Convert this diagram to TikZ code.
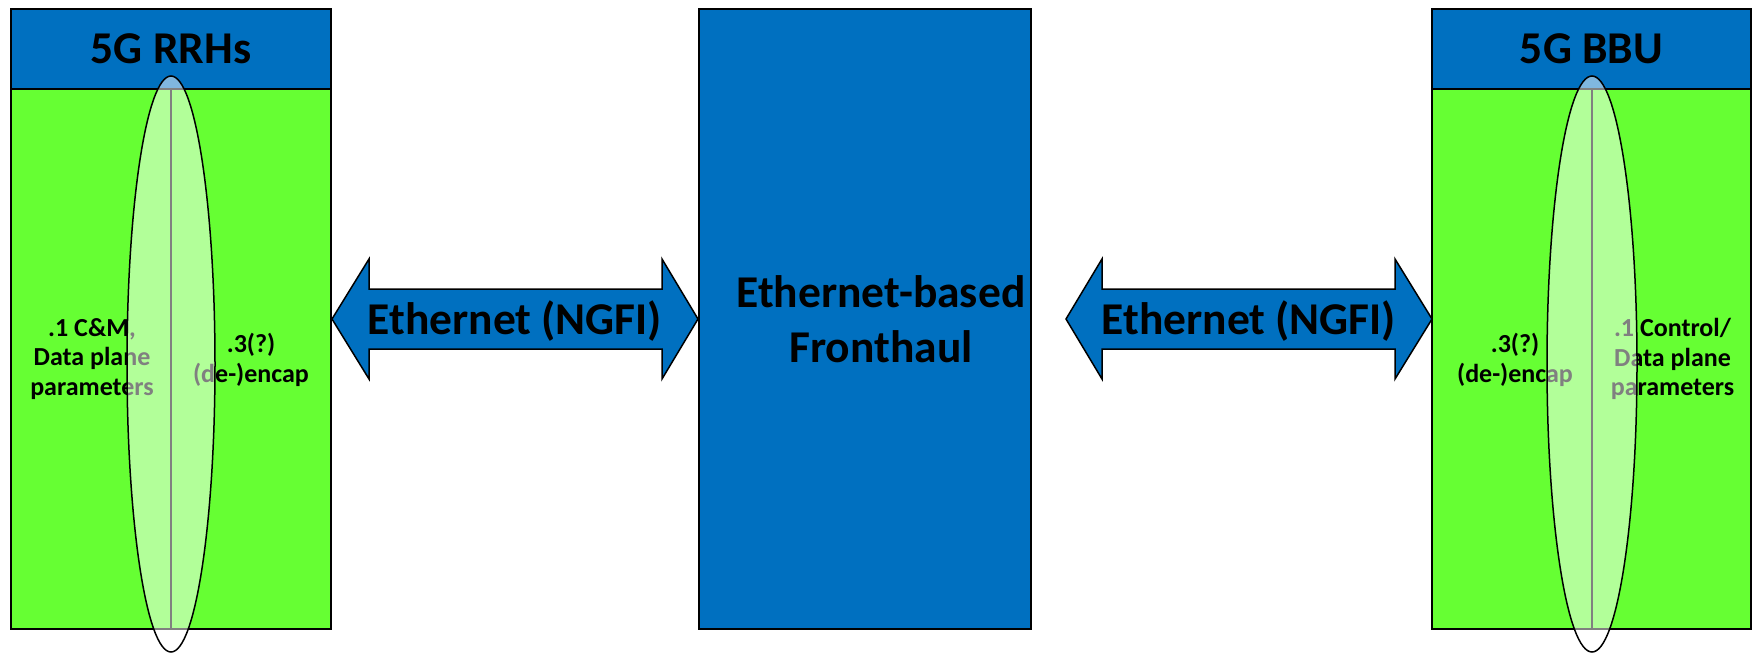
\documentclass[tikz,border=0pt]{standalone}
\usepackage{fontspec}
\setmainfont{Carlito}
\definecolor{hdrblue}{HTML}{0070C0}
\definecolor{bodygreen}{HTML}{66FF33}
\begin{document}
\begin{tikzpicture}[x=1pt,y=-1pt,
  outline/.style={draw=black,line width=1.5pt},
  bodybox/.style={outline,fill=bodygreen,inner sep=0pt},
  hdrbox/.style={outline,fill=hdrblue,inner sep=0pt,font=\fontsize{45.5}{55}\selectfont\bfseries},
  midbox/.style={outline,fill=hdrblue,inner sep=0pt},
  bigtext/.style={align=center,inner sep=0pt,font=\fontsize{45.5}{55}\selectfont\bfseries},
  arrowshape/.style={outline,fill=hdrblue,line join=miter},
  smalltext/.style={align=center,font=\fontsize{26}{29.5}\selectfont\bfseries,inner sep=0pt},
  divider/.style={draw=black,line width=1.5pt},
  lens/.style={draw=black,line width=1.5pt,fill=white,fill opacity=0.5}
]
\useasboundingbox (0,0) rectangle (1754,654);

% left unit
\node[bodybox,minimum width=320pt,minimum height=540pt] (rrhbody) at (171,359) {};
\node[hdrbox,minimum width=320pt,minimum height=80pt] (rrhhdr) at (171,49) {5G RRHs};
\node[smalltext] (rrhA) at (92,359) {.1 C\&M,\\Data plane\\parameters};
\node[smalltext] (rrhB) at (251,360) {.3(?)\\(de-)encap};
\coordinate (rrhtop) at (171,89);
\coordinate (rrhbot) at (171,629);
\draw[divider] (rrhtop) -- (rrhbot);
\draw[lens] (171,364) ellipse [x radius=44, y radius=288];

% centre
\node[midbox,minimum width=332pt,minimum height=620pt] (fh) at (865,319) {};
\node[bigtext] (fhtext) at (881,319) {Ethernet-based\\Fronthaul};

% right unit
\node[bodybox,minimum width=319pt,minimum height=540pt] (bbubody) at (1591.5,359) {};
\node[hdrbox,minimum width=319pt,minimum height=80pt] (bbuhdr) at (1591.5,49) {5G BBU};
\node[smalltext] (bbuA) at (1515,360) {.3(?)\\(de-)encap};
\node[smalltext] (bbuB) at (1672.5,359) {.1 Control/\\Data plane\\parameters};
\coordinate (bbutop) at (1592,89);
\coordinate (bbubot) at (1592,629);
\draw[divider] (bbutop) -- (bbubot);
\draw[lens] (1592,364) ellipse [x radius=45, y radius=288];

% arrows
\draw[arrowshape] (332,319) -- (369,259) -- (369,289) -- (662,289) -- (662,259) -- (698,319)
  -- (662,379) -- (662,349) -- (369,349) -- (369,379) -- cycle;
\node[bigtext] (ethL) at (515,321) {Ethernet (NGFI)};
\draw[arrowshape] (1066,319) -- (1102,259) -- (1102,289) -- (1395,289) -- (1395,259) -- (1432,319)
  -- (1395,379) -- (1395,349) -- (1102,349) -- (1102,379) -- cycle;
\node[bigtext] (ethR) at (1249,321) {Ethernet (NGFI)};
\end{tikzpicture}
\end{document}
